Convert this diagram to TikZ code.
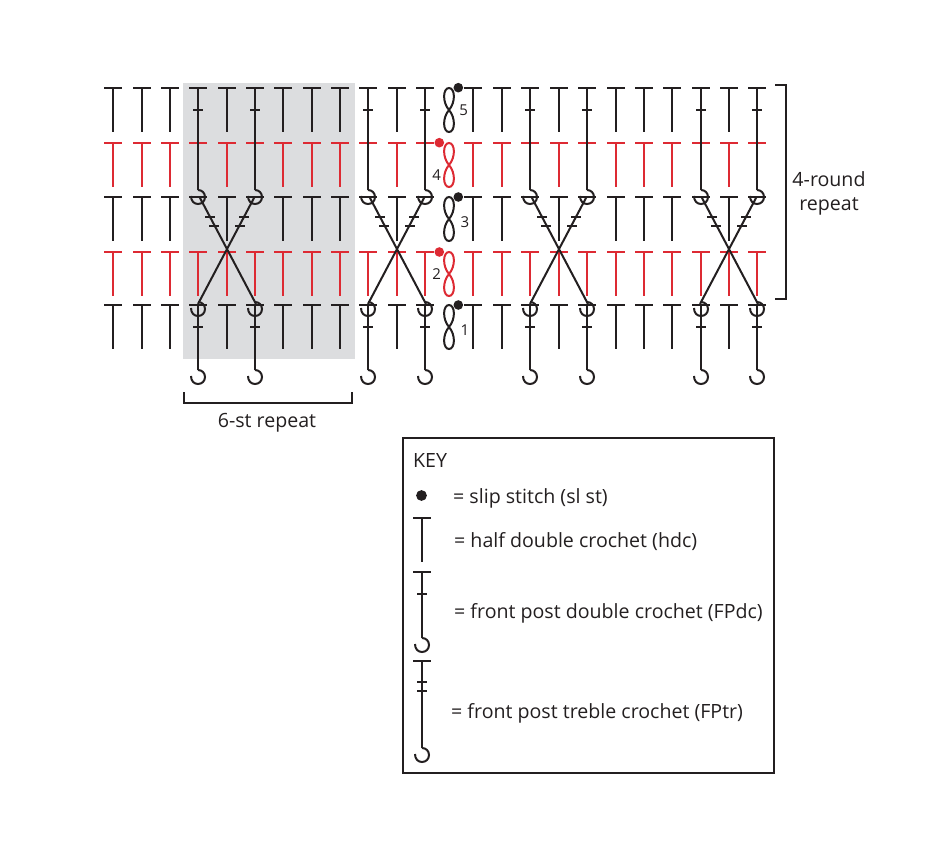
\documentclass[tikz,border=0pt]{standalone}
\usepackage{fontspec}
\setmainfont{Open Sans}
\definecolor{ink}{HTML}{231F20}
\definecolor{redyarn}{HTML}{DD2A33}
\definecolor{greypanel}{HTML}{DCDDDF}
\newcommand{\hookat}[2]{% x, centre y
  (#1,#2-7) .. controls (#1+4,#2-7) and (#1+7,#2-4) .. (#1+7,#2)
  .. controls (#1+7,#2+4) and (#1+4,#2+7) .. (#1,#2+7)
  .. controls (#1-4,#2+7) and (#1-7,#2+4) .. (#1-7,#2-1)}
\newcommand{\plainT}[3][]{% options, x, top y
  \draw[#1] (#2-9,#3) -- (#2+9,#3) (#2,#3) -- (#2,#3+44);}
\newcommand{\chainloops}[3][]{% options, x, top y: a twisted figure of eight
  \draw[#1] (#2,#3+22) .. controls (#2+7,#3+14) and (#2+6,#3) .. (#2,#3)
     .. controls (#2-6,#3) and (#2-7,#3+14) .. (#2,#3+22)
     .. controls (#2+7,#3+30) and (#2+6,#3+44) .. (#2,#3+44)
     .. controls (#2-6,#3+44) and (#2-7,#3+30) .. cycle;}
\begin{document}
\begin{tikzpicture}[x=1pt,y=-1pt,
  yarn/.style={line width=2pt,color=ink,line cap=butt},
  redline/.style={line width=2pt,color=redyarn},
  bracket/.style={line width=2pt,color=ink},
  label/.style={font=\fontsize{19.6}{20}\selectfont,text=ink,inner sep=0pt},
  keytext/.style={font=\fontsize{19.6}{20}\selectfont,text=ink,inner sep=0pt,anchor=west},
  digit/.style={font=\fontsize{15}{15}\selectfont,text=ink,inner sep=0pt}]
\useasboundingbox (0,0) rectangle (946,858);
\fill[greypanel] (182.5,83.5) rectangle (355,359);

% red rounds
\foreach \r in {143,252}{
  \foreach \c in {113,142,170,198,227,255,283,312,340,368,397,425,473,502,530,559,587,616,644,672,701,729,757}{
    \plainT[redline]{\c}{\r}
  }
}
% black rounds: plain columns
\foreach \r in {88,197,305}{
  \foreach \c in {113,142,170,227,283,312,340,397,473,502,559,616,644,672,729}{
    \plainT[yarn]{\c}{\r}
  }
}
% post stitches
\foreach \c in {198,255,368,425,530,587,701,757}{
  % top: front post double crochet
  \draw[yarn] (\c-9,88) -- (\c+9,88) (\c,88) -- (\c,190) (\c-5,110) -- (\c+5,110);
  \draw[yarn] \hookat{\c}{197};
  \draw[yarn] (\c-9,197) -- (\c+9,197);
  % bottom
  \draw[yarn] (\c-9,305) -- (\c+9,305) (\c,305) -- (\c,370) (\c-5,327) -- (\c+5,327);
  \draw[yarn] \hookat{\c}{309};
  \draw[yarn] \hookat{\c}{377};
}
% crossing treble stitches
\foreach \m in {227,397,559,729}{
  \coordinate (tl) at (\m-27.5,197);
  \coordinate (tr) at (\m+27.5,197);
  \coordinate (bl) at (\m-29,304);
  \coordinate (br) at (\m+29,304);
  \draw[yarn] (tl) -- (br) (tr) -- (bl);
  \draw[yarn] (\m-22,217) -- (\m-12,217) (\m-18,226) -- (\m-8,226);
  \draw[yarn] (\m+12,217) -- (\m+22,217) (\m+8,226) -- (\m+18,226);
}
% chains and slip stitches
\chainloops[yarn]{449}{88}
\chainloops[redline]{449}{143}
\chainloops[yarn]{449}{197}
\chainloops[redline]{449}{252}
\chainloops[yarn]{449}{305}
\fill[ink] (458.3,87.7) circle (4.8);
\fill[redyarn] (439.3,142.7) circle (4.8);
\fill[ink] (458.3,197) circle (4.8);
\fill[redyarn] (439.3,252) circle (4.8);
\fill[ink] (458.3,305) circle (4.8);
\node[digit] (n5) at (463.7,110) {5};
\node[digit] (n4) at (436.7,175) {4};
\node[digit] (n3) at (465,221.7) {3};
\node[digit] (n2) at (436.7,274) {2};
\node[digit] (n1) at (465,330) {1};
% brackets
\draw[bracket] (184,392.5) -- (184,403) -- (352,403) -- (352,392.5);
\node[label] (stlabel) at (267,423) {6-st repeat};
\draw[bracket] (775,85) -- (786,85) -- (786,299) -- (775,299);
\node[label] (roundA) at (829,179) {4-round};
\node[label] (roundB) at (829,206) {repeat};
% key
\draw[line width=2pt,color=ink] (403,438) rectangle (774,773);
\node[keytext] (keytitle) at (413,461) {KEY};
\fill[ink] (421.5,495.5) circle (5.4);
\node[keytext] (k1) at (453,498) {= slip stitch (sl st)};
\plainT[yarn]{422}{518}
\node[keytext] (k2) at (454,542) {= half double crochet (hdc)};
\draw[yarn] (413,572) -- (431,572) (422,572) -- (422,638) (417,594) -- (427,594);
\draw[yarn] \hookat{422}{645};
\node[keytext] (k3) at (454,613) {= front post double crochet (FPdc)};
\draw[yarn] (413,661) -- (431,661) (422,661) -- (422,748) (417,682) -- (427,682) (417,691) -- (427,691);
\draw[yarn] \hookat{422}{755};
\node[keytext] (k4) at (451,713) {= front post treble crochet (FPtr)};
\end{tikzpicture}
\end{document}
